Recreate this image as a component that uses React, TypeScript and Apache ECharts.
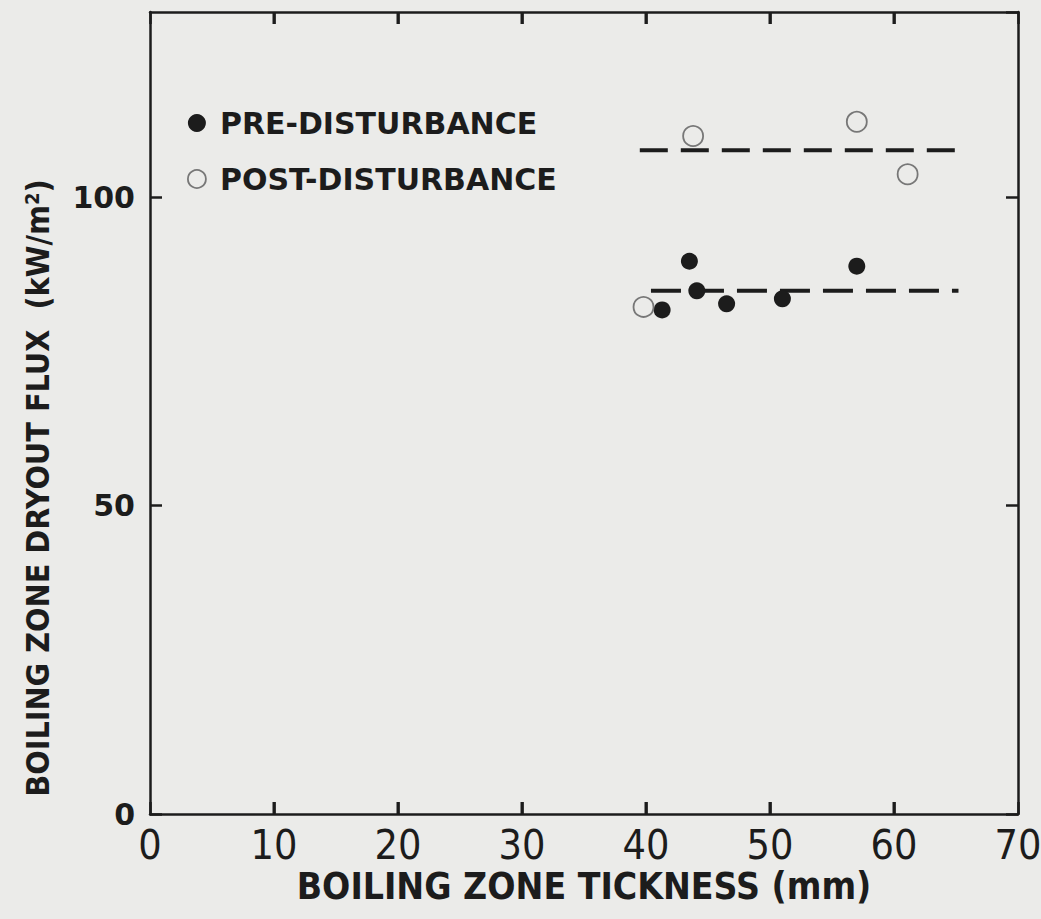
import React, { useEffect, useRef } from "react";
import * as echarts from "echarts";

// ---- data ----
const preX = [41.3, 43.5, 44.1, 46.5, 51.0, 57.0];
const preY = [81.7, 89.6, 84.8, 82.7, 83.5, 88.8];
const postX = [39.8, 43.8, 57.0, 61.1];
const postY = [82.2, 109.9, 112.2, 103.7];
const upperFitX = [39.5, 65.1];
const upperFitY = [107.6, 107.6];
const lowerFitX = [40.4, 65.2];
const lowerFitY = [84.8, 84.8];
const xTicks = [0, 10, 20, 30, 40, 50, 60, 70];
const yTicks = [0, 50, 100];
const yMax = 130;
const seriesNames = ["PRE-DISTURBANCE", "POST-DISTURBANCE"];
const xTitle = "BOILING ZONE TICKNESS (mm)";
const yTitleMain = "BOILING ZONE DRYOUT FLUX  (kW/m";
const yTitleSup = "2";
const yTitleEnd = ")";

const zip = (xs: number[], ys: number[]) => xs.map((x, i) => [x, ys[i]]);

const BG = "#ebebe9";
const INK = "#1c1c1c";
const NARROW = "'Liberation Sans Narrow', 'DejaVu Sans Condensed', 'Liberation Sans', sans-serif";
const WIDE = "'DejaVu Sans', 'Liberation Sans', sans-serif";
const TICK_LEN = 12;

const mkLine = () => ({ show: true, onZero: false, lineStyle: { color: INK, width: 2.5 } });
const mkTick = () => ({ show: true, inside: true, length: TICK_LEN, lineStyle: { color: INK, width: 2.5 } });

export default function App() {
  const ref = useRef<HTMLDivElement>(null);
  useEffect(() => {
    if (!ref.current) return;
    const chart = echarts.init(ref.current, null, { renderer: "svg" });
    const xMin = xTicks[0];
    const xMax = xTicks[xTicks.length - 1];
    const xStep = xTicks[1] - xTicks[0];
    const yStep = yTicks[1] - yTicks[0];
    const innerXTicks = xTicks.slice(1, -1);
    const tickMark = (y: number, dir: number) => ({
      type: "scatter",
      silent: true,
      clip: false,
      data: innerXTicks.map((x) => [x, y]),
      symbol: "rect",
      symbolSize: [3, TICK_LEN],
      symbolOffset: [0, (dir * TICK_LEN) / 2],
      itemStyle: { color: INK, opacity: 1 },
      z: 5,
    });
    chart.setOption({
      animation: false,
      backgroundColor: BG,
      grid: { left: 150, right: 23, top: 12, bottom: 105, outerBoundsMode: "none", containLabel: false },
      legend: {
        data: [
          { name: seriesNames[0], icon: "circle", itemStyle: { color: INK, opacity: 1 } },
          {
            name: seriesNames[1],
            icon: "circle",
            itemStyle: { color: "transparent", borderColor: "#777", borderWidth: 1.8 },
          },
        ],
        orient: "vertical",
        left: 182,
        top: 102,
        itemWidth: 18,
        itemHeight: 18,
        itemGap: 24,
        selectedMode: false,
        textStyle: {
          fontFamily: WIDE,
          fontWeight: "bold",
          fontSize: 30,
          lineHeight: 32,
          color: INK,
          padding: [0, 0, 0, 9],
        },
      },
      xAxis: [
        {
          type: "value",
          min: xMin,
          max: xMax,
          interval: xStep,
          position: "bottom",
          axisLine: mkLine(),
          axisTick: mkTick(),
          splitLine: { show: false },
          axisLabel: {
            margin: 14,
            fontFamily: NARROW,
            fontSize: 41,
            lineHeight: 34,
            color: INK,
          },
          name: xTitle,
          nameLocation: "middle",
          nameGap: 56,
          nameMoveOverlap: false,
          nameTextStyle: {
            fontFamily: NARROW,
            fontWeight: "bold",
            fontSize: 37,
            lineHeight: 32,
            color: INK,
          },
        },
        {
          type: "value",
          min: xMin,
          max: xMax,
          interval: xStep,
          position: "top",
          axisLine: mkLine(),
          axisTick: mkTick(),
          axisLabel: { show: false },
          splitLine: { show: false },
        },
      ],
      yAxis: [
        {
          type: "value",
          min: 0,
          max: yMax,
          interval: yStep,
          position: "left",
          axisLine: mkLine(),
          axisTick: mkTick(),
          splitLine: { show: false },
          axisLabel: {
            margin: 15,
            showMaxLabel: false,
            fontFamily: WIDE,
            fontWeight: "bold",
            fontSize: 30,
            color: INK,
            formatter: (v: number) => (yTicks.includes(v) ? String(v) : ""),
          },
        },
        {
          type: "value",
          min: 0,
          max: yMax,
          interval: yStep,
          position: "right",
          axisLine: mkLine(),
          axisTick: mkTick(),
          axisLabel: { show: false },
          splitLine: { show: false },
        },
      ],
      graphic: [
        {
          type: "text",
          x: 38,
          y: 488,
          rotation: Math.PI / 2,
          style: {
            text: `${yTitleMain}{sup|${yTitleSup}}${yTitleEnd}`,
            fontFamily: NARROW,
            fontWeight: "bold",
            fontSize: 32,
            fill: INK,
            textAlign: "center",
            textVerticalAlign: "middle",
            rich: {
              sup: {
                fontFamily: NARROW,
                fontWeight: "bold",
                fontSize: 20,
                fill: INK,
                verticalAlign: "top",
                padding: [0, 0, 12, 0],
              },
            },
          },
        },
      ],
      series: [
        { name: "bottom-ticks", ...tickMark(0, -1) },
        { name: "top-ticks", ...tickMark(yMax, 1) },
        {
          name: "upper-fit",
          type: "line",
          data: zip(upperFitX, upperFitY),
          symbol: "none",
          lineStyle: { color: INK, width: 4, type: [28, 13] },
          z: 1,
        },
        {
          name: "lower-fit",
          type: "line",
          data: zip(lowerFitX, lowerFitY),
          symbol: "none",
          lineStyle: { color: INK, width: 4, type: [30, 13] },
          z: 1,
        },
        {
          name: seriesNames[0],
          type: "scatter",
          data: zip(preX, preY),
          symbol: "circle",
          symbolSize: 17,
          itemStyle: { color: INK, opacity: 1 },
          z: 3,
        },
        {
          name: seriesNames[1],
          type: "scatter",
          data: zip(postX, postY),
          symbol: "circle",
          symbolSize: 20,
          itemStyle: { color: "transparent", borderColor: "#777", borderWidth: 1.8, opacity: 1 },
          z: 4,
        },
      ],
    });
    return () => chart.dispose();
  }, []);
  return (
    <div
      ref={ref}
      style={{ position: "fixed", left: 0, top: 0, width: 1041, height: 919, background: BG }}
    />
  );
}
